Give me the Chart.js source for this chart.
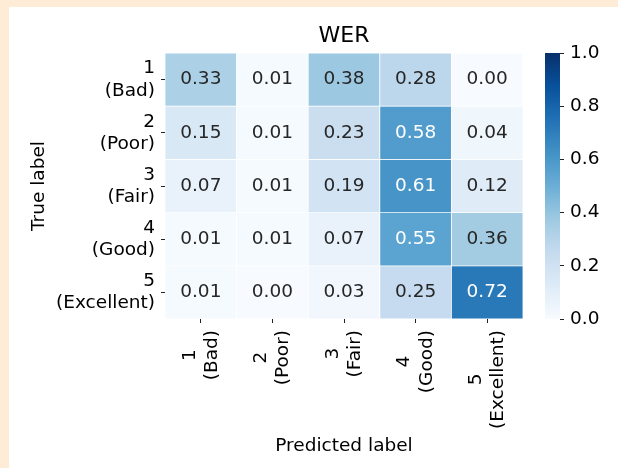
<!DOCTYPE html>
<html>
<head>
<meta charset="utf-8">
<script src="https://cdn.jsdelivr.net/npm/chart.js@4.4.0/dist/chart.umd.min.js"></script>
<style>
  html, body { margin: 0; padding: 0; width: 618px; height: 468px; overflow: hidden; background: #feecd6; }
  #panel { position: absolute; left: 9px; top: 7px; right: 0; bottom: 0; background: #ffffff; }
  canvas { position: absolute; top: 0; }
  #heat { left: 0; }
  #cbar { left: 520px; }
</style>
</head>
<body>
<div id="panel"></div>
<canvas id="heat" width="618" height="468"></canvas>
<canvas id="cbar" width="98" height="468"></canvas>
<script>
// Confusion matrix (rows: true label, columns: predicted label), row-normalised
const predictedLabels = [['1', '(Bad)'], ['2', '(Poor)'], ['3', '(Fair)'], ['4', '(Good)'], ['5', '(Excellent)']];
const trueLabels = [['1', '(Bad)'], ['2', '(Poor)'], ['3', '(Fair)'], ['4', '(Good)'], ['5', '(Excellent)']];
const rowBad = [0.33, 0.01, 0.38, 0.28, 0.00];
const rowPoor = [0.15, 0.01, 0.23, 0.58, 0.04];
const rowFair = [0.07, 0.01, 0.19, 0.61, 0.12];
const rowGood = [0.01, 0.01, 0.07, 0.55, 0.36];
const rowExcellent = [0.01, 0.00, 0.03, 0.25, 0.72];
const matrixRows = [rowBad, rowPoor, rowFair, rowGood, rowExcellent];
const colorbarTicks = [0.0, 0.2, 0.4, 0.6, 0.8, 1.0];
const chartTitle = 'WER';
const xTitle = 'Predicted label';
const yTitle = 'True label';

// "Blues" sequential palette, evenly spaced from 0 to 1
const bluesStops = ['#f7fbff', '#deebf7', '#c6dbef', '#9ecae1', '#6baed6', '#4292c6', '#2171b5', '#08519c', '#08306b'];

const FONT = 'DejaVu Sans';
const TICK_SIZE = 18.5;
const TITLE_SIZE = 22;

function hexToRgb(h) {
  const n = parseInt(h.slice(1), 16);
  return [(n >> 16) & 255, (n >> 8) & 255, n & 255];
}
function blues(v) {
  const t = Math.min(1, Math.max(0, v)) * (bluesStops.length - 1);
  const i = Math.min(bluesStops.length - 2, Math.floor(t));
  const f = t - i;
  const a = hexToRgb(bluesStops[i]);
  const b = hexToRgb(bluesStops[i + 1]);
  const c = a.map((x, k) => Math.round(x + (b[k] - x) * f));
  return `rgb(${c[0]},${c[1]},${c[2]})`;
}
function luminance(rgbStr) {
  const c = rgbStr.match(/\d+/g).map(Number).map(x => {
    x /= 255;
    return x <= 0.03928 ? x / 12.92 : Math.pow((x + 0.055) / 1.055, 2.4);
  });
  return 0.2126 * c[0] + 0.7152 * c[1] + 0.0722 * c[2];
}

Chart.defaults.font.family = FONT;
Chart.defaults.font.size = TICK_SIZE;
Chart.defaults.color = '#000000';

// one floating-bar dataset per true-label row; every bar is one cell
const datasets = matrixRows.map((vals, r) => ({
  label: trueLabels[r].join(' '),
  values: vals,
  data: vals.map(() => [r, r + 1]),
  backgroundColor: vals.map(blues),
  borderColor: '#ffffff',
  borderWidth: 0.75,
  borderSkipped: false,
  grouped: false,
  barPercentage: 1,
  categoryPercentage: 1
}));

// value printed in the middle of each cell
const cellText = {
  id: 'cellText',
  afterDatasetsDraw(chart) {
    const ctx = chart.ctx;
    ctx.save();
    ctx.font = `${TICK_SIZE}px "${FONT}"`;
    ctx.textAlign = 'center';
    ctx.textBaseline = 'middle';
    chart.data.datasets.forEach((ds, di) => {
      chart.getDatasetMeta(di).data.forEach((bar, i) => {
        const v = ds.values[i];
        ctx.fillStyle = luminance(blues(v)) < 0.408 ? '#ffffff' : '#262626';
        ctx.fillText(v.toFixed(2), bar.x, (bar.y + bar.base) / 2);
      });
    });
    ctx.restore();
  }
};

// vertical two-line category labels under the x axis, lines centred on each other
const xTickText = {
  id: 'xTickText',
  afterDraw(chart) {
    const xs = chart.scales.x;
    const ctx = chart.ctx;
    const lh = TICK_SIZE * 1.2;
    const top = chart.chartArea.bottom + 4 + 7;
    ctx.save();
    ctx.font = `${TICK_SIZE}px "${FONT}"`;
    ctx.fillStyle = '#000000';
    ctx.textAlign = 'center';
    ctx.textBaseline = 'middle';
    predictedLabels.forEach((lines, i) => {
      const x = xs.getPixelForValue(i);
      const w = Math.max(...lines.map(s => ctx.measureText(s).width));
      ctx.save();
      ctx.translate(x, top);
      ctx.rotate(-Math.PI / 2);
      lines.forEach((s, k) => ctx.fillText(s, -w / 2, (k - (lines.length - 1) / 2) * lh));
      ctx.restore();
    });
    ctx.restore();
  }
};

new Chart(document.getElementById('heat'), {
  type: 'bar',
  data: { labels: predictedLabels.map(l => l.join(' ')), datasets },
  plugins: [cellText, xTickText],
  options: {
    responsive: false,
    animation: false,
    devicePixelRatio: 1,
    layout: { padding: { left: 0, right: 95, top: 0, bottom: 0 } },
    plugins: {
      legend: { display: false },
      tooltip: { enabled: false },
      title: {
        display: true,
        text: chartTitle,
        fullSize: false,
        color: '#000000',
        font: { size: TITLE_SIZE, weight: 'normal' },
        padding: { top: 22.8, bottom: 3.8 }
      }
    },
    scales: {
      x: {
        type: 'category',
        offset: true,
        ticks: { display: false },
        grid: { display: true, drawOnChartArea: false, drawTicks: true, tickLength: 4, color: '#222222', offset: false },
        border: { display: false },
        title: { display: true, text: xTitle, color: '#000000', font: { size: TICK_SIZE }, padding: { top: 0, bottom: 11 } },
        afterFit(scale) { scale.height = 149; }
      },
      y: {
        type: 'linear',
        min: 0,
        max: 5,
        reverse: true,
        afterBuildTicks(scale) { scale.ticks = trueLabels.map((_, i) => ({ value: i + 0.5 })); },
        ticks: { padding: 6, color: '#000000', callback: (v, i) => trueLabels[i] },
        grid: { display: true, drawOnChartArea: false, drawTicks: true, tickLength: 4, color: '#222222' },
        border: { display: false },
        title: { display: true, text: yTitle, color: '#000000', font: { size: TICK_SIZE }, padding: { top: 28.4, bottom: 0 } },
        afterFit(scale) { scale.width = 165; }
      }
    }
  }
});

// colour bar: a single bar filled with the palette, ticks on the right
new Chart(document.getElementById('cbar'), {
  type: 'bar',
  data: {
    labels: [''],
    datasets: [{
      data: [[colorbarTicks[0], colorbarTicks[colorbarTicks.length - 1]]],
      backgroundColor(c) {
        const area = c.chart.chartArea;
        if (!area) return bluesStops[4];
        const g = c.chart.ctx.createLinearGradient(0, area.bottom, 0, area.top);
        bluesStops.forEach((col, i) => g.addColorStop(i / (bluesStops.length - 1), col));
        return g;
      },
      borderWidth: 0,
      barPercentage: 1,
      categoryPercentage: 1
    }]
  },
  options: {
    responsive: false,
    animation: false,
    devicePixelRatio: 1,
    layout: { padding: { left: 25, right: 0, top: 53, bottom: 149 } },
    plugins: { legend: { display: false }, tooltip: { enabled: false } },
    scales: {
      x: { display: false },
      y: {
        position: 'right',
        min: 0,
        max: 1,
        afterBuildTicks(scale) { scale.ticks = colorbarTicks.map(v => ({ value: v })); },
        ticks: { padding: 6, color: '#000000', callback: v => Number(v).toFixed(1) },
        grid: { display: true, drawOnChartArea: false, drawTicks: true, tickLength: 4, color: '#222222' },
        border: { display: false },
        afterFit(scale) { scale.width = 58; }
      }
    }
  }
});
</script>
</body>
</html>
